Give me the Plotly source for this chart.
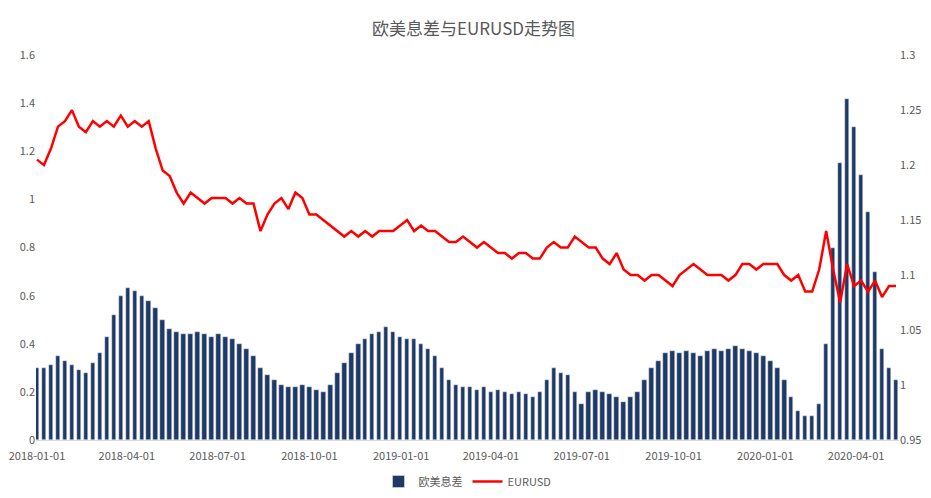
import pandas as pd
import plotly.graph_objects as go

weeks = pd.date_range("2018-01-01", periods=124, freq="7D")

spread = [0.30, 0.30, 0.31, 0.35, 0.33, 0.31, 0.29, 0.28, 0.32, 0.36,
          0.43, 0.52, 0.60, 0.63, 0.62, 0.60, 0.58, 0.55, 0.50, 0.46,
          0.45, 0.44, 0.44, 0.45, 0.44, 0.43, 0.44, 0.43, 0.42, 0.40,
          0.38, 0.35, 0.30, 0.27, 0.25, 0.23, 0.22, 0.22, 0.23, 0.22,
          0.21, 0.20, 0.23, 0.28, 0.32, 0.36, 0.40, 0.42, 0.44, 0.45,
          0.47, 0.45, 0.43, 0.42, 0.42, 0.40, 0.38, 0.35, 0.30, 0.25,
          0.23, 0.22, 0.22, 0.21, 0.22, 0.20, 0.21, 0.20, 0.19, 0.20,
          0.19, 0.18, 0.20, 0.25, 0.30, 0.28, 0.27, 0.20, 0.15, 0.20,
          0.21, 0.20, 0.19, 0.18, 0.16, 0.18, 0.20, 0.25, 0.30, 0.33,
          0.36, 0.37, 0.36, 0.37, 0.36, 0.35, 0.37, 0.38, 0.37, 0.38,
          0.39, 0.38, 0.37, 0.36, 0.35, 0.33, 0.30, 0.25, 0.18, 0.12,
          0.10, 0.10, 0.15, 0.40, 0.80, 1.15, 1.42, 1.30, 1.10, 0.95,
          0.70, 0.38, 0.30, 0.25]

eurusd = [1.205, 1.200, 1.215, 1.235, 1.240, 1.250, 1.235, 1.230, 1.240, 1.235,
          1.240, 1.235, 1.245, 1.235, 1.240, 1.235, 1.240, 1.215, 1.195, 1.190,
          1.175, 1.165, 1.175, 1.170, 1.165, 1.170, 1.170, 1.170, 1.165, 1.170,
          1.165, 1.165, 1.140, 1.155, 1.165, 1.170, 1.160, 1.175, 1.170, 1.155,
          1.155, 1.150, 1.145, 1.140, 1.135, 1.140, 1.135, 1.140, 1.135, 1.140,
          1.140, 1.140, 1.145, 1.150, 1.140, 1.145, 1.140, 1.140, 1.135, 1.130,
          1.130, 1.135, 1.130, 1.125, 1.130, 1.125, 1.120, 1.120, 1.115, 1.120,
          1.120, 1.115, 1.115, 1.125, 1.130, 1.125, 1.125, 1.135, 1.130, 1.125,
          1.125, 1.115, 1.110, 1.120, 1.105, 1.100, 1.100, 1.095, 1.100, 1.100,
          1.095, 1.090, 1.100, 1.105, 1.110, 1.105, 1.100, 1.100, 1.100, 1.095,
          1.100, 1.110, 1.110, 1.105, 1.110, 1.110, 1.110, 1.100, 1.095, 1.100,
          1.085, 1.085, 1.105, 1.140, 1.105, 1.075, 1.110, 1.090, 1.095, 1.085,
          1.095, 1.080, 1.090, 1.090]

tick_dates = ["2018-01-01", "2018-04-01", "2018-07-01", "2018-10-01", "2019-01-01",
              "2019-04-01", "2019-07-01", "2019-10-01", "2020-01-01", "2020-04-01"]

navy = "#1f3864"
grey = "#595959"

fig = go.Figure()
fig.add_trace(go.Bar(x=weeks, y=spread, name="欧美息差", marker_color=navy,
                     width=4.5 * 86400000))
fig.add_trace(go.Scatter(x=weeks, y=eurusd, name="EURUSD", yaxis="y2",
                         mode="lines", line=dict(color="#ff0000", width=2.5)))

fig.update_layout(
    width=931, height=498,
    title=dict(text="欧美息差与EURUSD走势图", x=0.5, y=0.97,
               font=dict(size=17, color=grey)),
    font=dict(family="Noto Sans CJK SC", size=11, color=grey),
    plot_bgcolor="white", paper_bgcolor="white",
    margin=dict(l=28, r=40, t=40, b=66),
    bargap=0,
    xaxis=dict(range=["2017-12-31", "2020-05-14"], tickvals=tick_dates, ticktext=tick_dates,
               showgrid=False, showline=True, linecolor="#d9d9d9", tickfont=dict(size=11),
               ticks="outside", ticklen=6, tickcolor="white", automargin=False),
    yaxis=dict(range=[0, 1.63], tickvals=[0, 0.2, 0.4, 0.6, 0.8, 1, 1.2, 1.4, 1.6],
               showgrid=False, zeroline=False, tickformat="~g", automargin=False),
    yaxis2=dict(range=[0.95, 1.3065], tickvals=[0.95, 1, 1.05, 1.1, 1.15, 1.2, 1.25, 1.3],
                overlaying="y", side="right",
                showgrid=False, zeroline=False, tickformat="~g", automargin=False),
    legend=dict(orientation="h", x=0.5, xanchor="center", yref="container", y=0.02,
                yanchor="bottom", font=dict(size=11)),
)

fig.write_html("out.html")
